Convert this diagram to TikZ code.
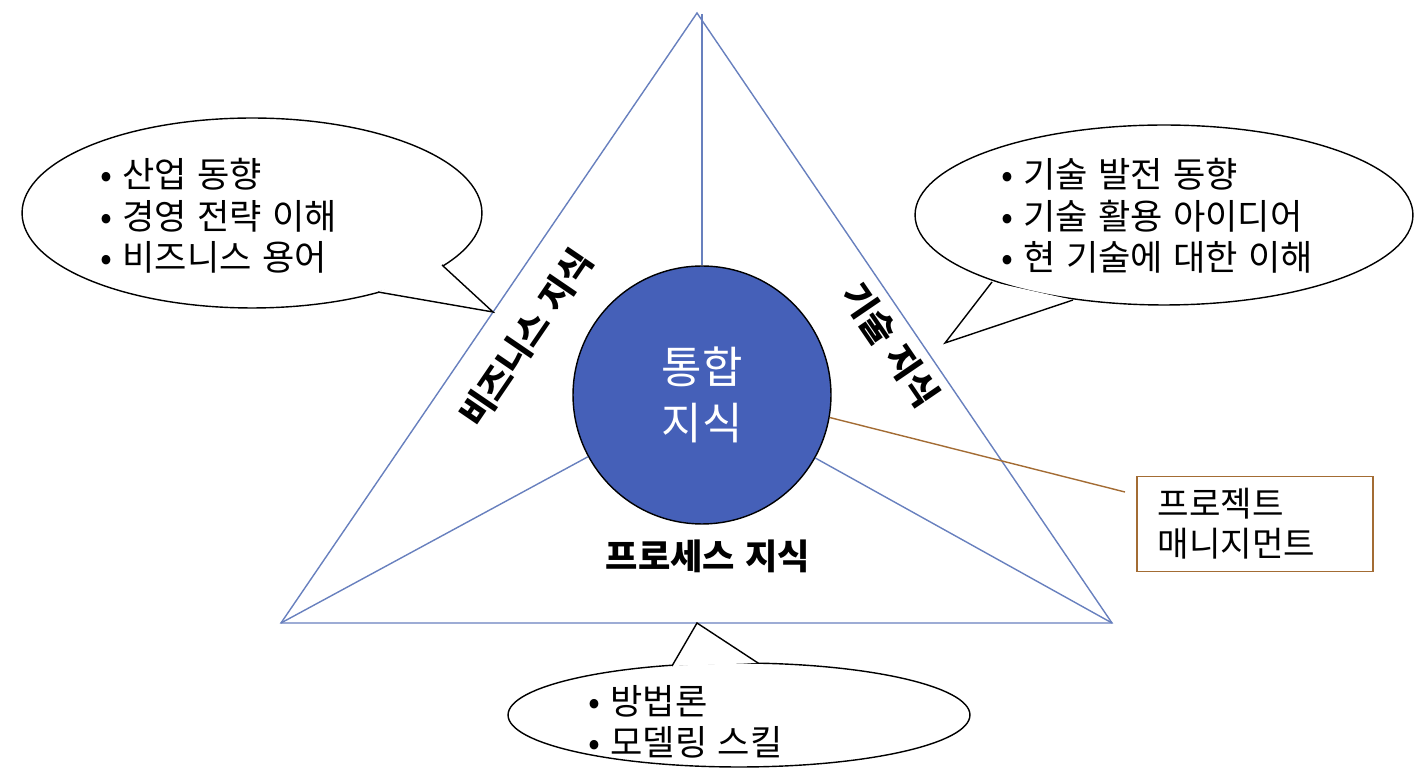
\documentclass[tikz,border=0pt]{standalone}
\usepackage{fontspec}
\setmainfont[WordSpace=1.3]{Noto Sans CJK KR}
\usetikzlibrary{shapes.geometric}

\definecolor{edgeblue}{RGB}{104,128,190}
\definecolor{coreblue}{RGB}{69,96,184}
\definecolor{pmbrown}{RGB}{163,108,52}

\begin{document}
\begin{tikzpicture}[x=0.02cm, y=-0.02cm, font=\fontsize{20}{23.6}\selectfont]

  \tikzstyle{bubble}=[ellipse, draw=black, fill=white, line width=0.8pt, inner sep=0pt]
  \tikzstyle{items}=[anchor=west, align=left, inner sep=0pt]
  \tikzstyle{side}=[font=\fontsize{20}{24}\selectfont\bfseries, inner sep=0pt]
  \tikzstyle{tri}=[draw=edgeblue, line width=0.8pt]

  \useasboundingbox (0,0) rectangle (1428,783);

  % triangle
  \coordinate (top) at (697,13);
  \coordinate (bl) at (281,623);
  \coordinate (br) at (1112,623);
  \coordinate (axis) at (702,14);
  \path [tri] (top) -- (bl) -- (br) -- cycle;

  \node [circle, draw=black, fill=coreblue, line width=0.8pt, minimum size=5.16cm,
    text=white, align=center, font=\fontsize{25}{32}\selectfont] (core) at (702,395)
    {통합\\지식};

  \draw [tri] (axis) -- (core);
  \draw [tri] (core) -- (bl);
  \draw [tri] (core) -- (br);

  \node [side, rotate=55.7] (bizlbl) at (526,338) {비즈니스 지식};
  \node [side, rotate=-55.7] (techlbl) at (891,345) {기술 지식};
  \node [side] (proclbl) at (708,556) {프로세스 지식};

  % project management
  \node [draw=pmbrown, line width=0.8pt, minimum width=4.72cm, minimum height=1.9cm,
    align=left, text width=3.9cm, font=\fontsize{19.5}{22.7}\selectfont] (pm) at (1255,524)
    {프로젝트\\매니지먼트};
  \coordinate (pmend) at (1125,492);
  \draw [pmbrown, line width=0.8pt] (core.-10) -- (pmend);

  % callouts
  \node [bubble, minimum width=9.2cm, minimum height=3.8cm] (bizbub) at (252,213) {};
  \fill [white] (442,265) -- (493,312) -- (378,292) -- cycle;
  \draw [line width=0.8pt] (442,265) -- (493,312) -- (378,292);
  \node [items] (bizitems) at (100,216) {• 산업 동향\\• 경영 전략 이해\\• 비즈니스 용어};

  \node [bubble, minimum width=9.96cm, minimum height=3.6cm] (techbub) at (1164,215) {};
  \fill [white] (992,282) -- (945,343) -- (1073,300) -- cycle;
  \draw [line width=0.8pt] (992,282) -- (945,343) -- (1073,300);
  \node [items] (techitems) at (1001,216) {• 기술 발전 동향\\• 기술 활용 아이디어\\• 현 기술에 대한 이해};

  \node [bubble, minimum width=9.24cm, minimum height=2.08cm] (procbub) at (739,715) {};
  \fill [white] (672,666) -- (697,623) -- (758,663) -- cycle;
  \draw [line width=0.8pt] (672,666) -- (697,623) -- (758,663);
  \node [items] (procitems) at (588,722) {• 방법론\\• 모델링 스킬};

\end{tikzpicture}
\end{document}
